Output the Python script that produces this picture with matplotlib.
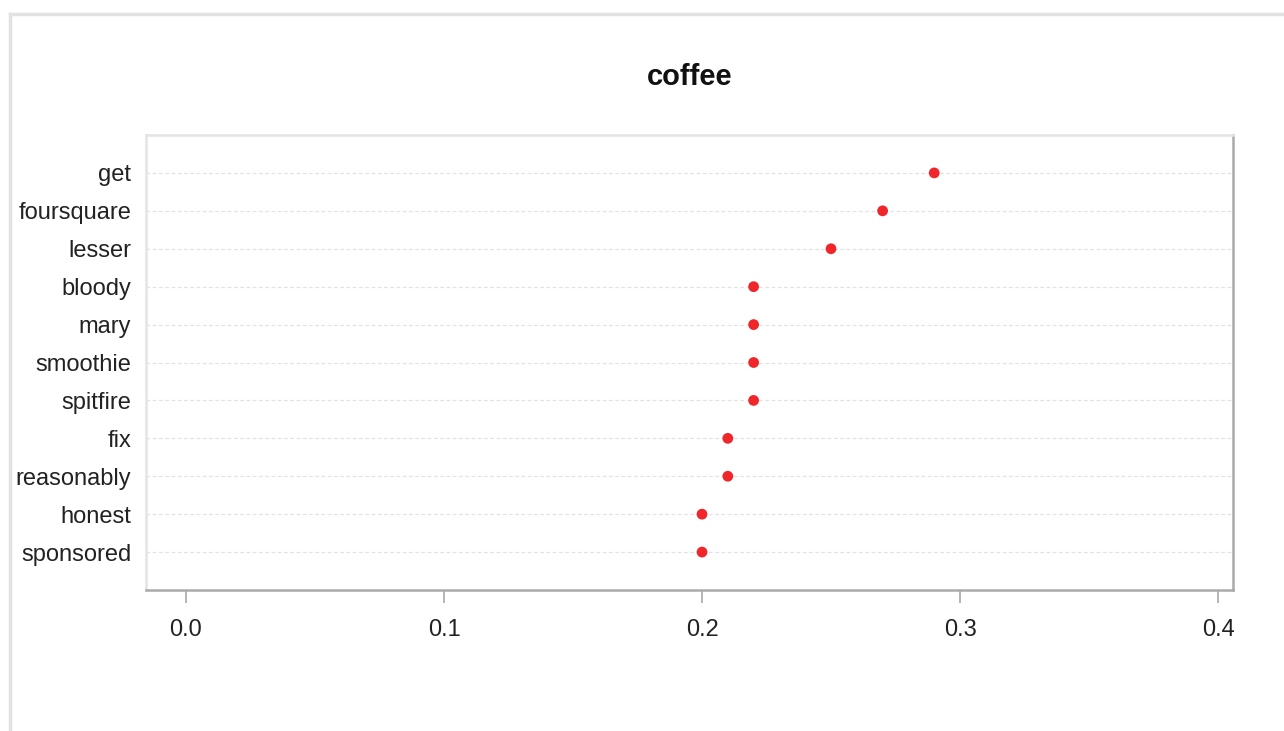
import matplotlib
matplotlib.use('Agg')
import matplotlib.pyplot as plt
from matplotlib.lines import Line2D

# dotchart data, top row first
words = ['get', 'foursquare', 'lesser', 'bloody', 'mary', 'smoothie',
         'spitfire', 'fix', 'reasonably', 'honest', 'sponsored']
scores = [0.29, 0.27, 0.25, 0.22, 0.22, 0.22, 0.22, 0.21, 0.21, 0.20, 0.20]
xticks = [0.0, 0.1, 0.2, 0.3, 0.4]
title = 'coffee'

plt.rcParams['font.family'] = ['Liberation Sans', 'DejaVu Sans']

W, H = 1284, 731
fig = plt.figure(figsize=(W / 100, H / 100), dpi=100)
ax = fig.add_axes([146 / W, 1 - 590 / H, (1233 - 146) / W, (590 - 135) / H])

n = len(words)
ypos = list(range(n, 0, -1))

for y in ypos:
    ax.axhline(y, color='#e2e2e2', lw=0.9, ls=(0, (3, 2)), zorder=1)
ax.scatter(scores, ypos, s=60, color='#f0262b', edgecolors='none', zorder=3)

ax.set_xlim(-0.0155, 0.4058)
ax.set_ylim(0, n + 1)
ax.set_yticks(ypos)
ax.set_yticklabels(words, fontsize=17, color='#222222')
ax.set_xticks(xticks)
ax.set_xticklabels([f'{t:.1f}' for t in xticks], fontsize=17, color='#222222')
ax.tick_params(axis='y', length=0, pad=10.5)
ax.tick_params(axis='x', length=9, width=1.2, color='#a8a8a8', pad=12)

for side in ['left', 'top']:
    ax.spines[side].set_color('#e4e4e4')
    ax.spines[side].set_linewidth(1.8)
for side in ['right', 'bottom']:
    ax.spines[side].set_color('#aaaaaa')
    ax.spines[side].set_linewidth(1.8)

fig.text(689.5 / W, 1 - 77 / H, title, ha='center', va='center',
         fontsize=21, fontweight='bold', color='#111111')

# outer frame of the screenshot
fig.add_artist(Line2D([10 / W, 1], [1 - 14 / H, 1 - 14 / H], color='#e2e2e2', lw=2.5))
fig.add_artist(Line2D([10 / W, 10 / W], [0, 1 - 14 / H], color='#e2e2e2', lw=2.5))

fig.savefig('out.png', dpi=100)
